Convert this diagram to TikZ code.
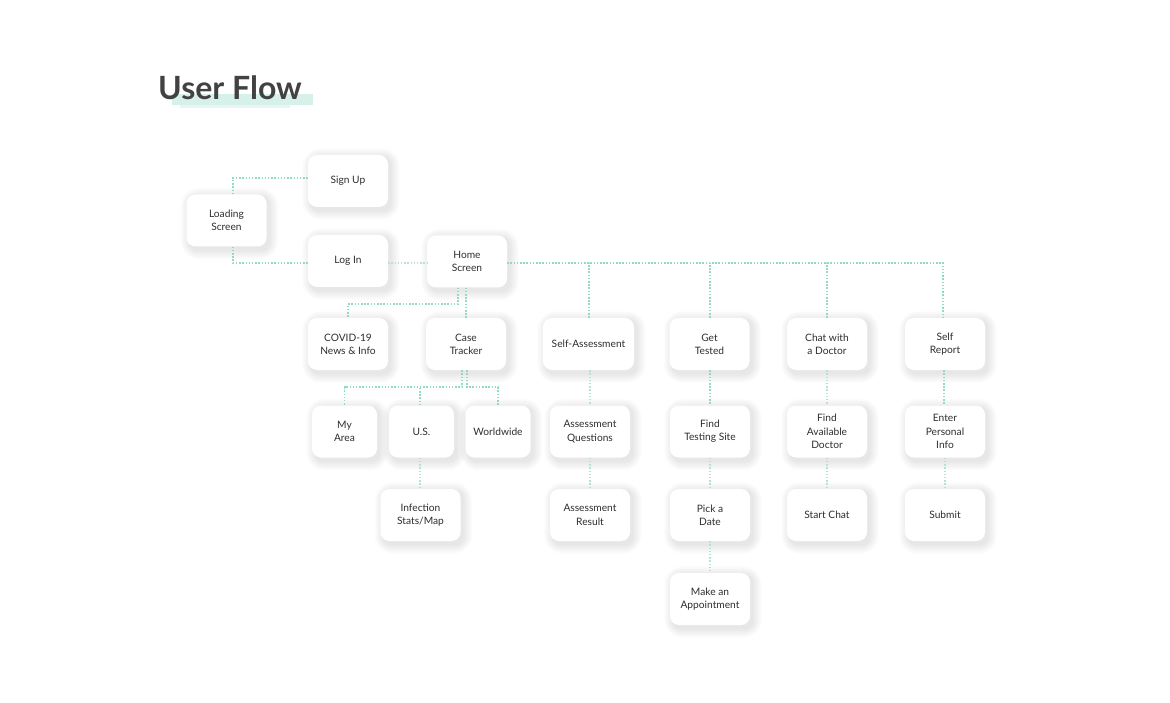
\documentclass[tikz,border=0pt]{standalone}
\usepackage{fontspec}
\setmainfont{Lato}
\usetikzlibrary{calc}
\pgfdeclarelayer{bg}
\pgfsetlayers{bg,main}
\definecolor{linecol}{HTML}{93D9C8}
\definecolor{linelight}{HTML}{B0E4D7}
\definecolor{txtcol}{HTML}{2E2E2E}
\definecolor{titlecol}{HTML}{424242}
\definecolor{hilite}{HTML}{D6F0EA}
\begin{document}
\begin{tikzpicture}[x=1pt,y=-1pt,
  box/.style={rectangle, rounded corners=9pt, fill=white, minimum width=80pt, minimum height=52pt,
    inner sep=2pt, align=center, text=txtcol, font=\fontsize{10.2}{13.3}\selectfont},
  narrow/.style={box, minimum width=65pt},
  wide/.style={box, minimum width=91pt},
  conn/.style={draw=linecol, line width=1.5pt, dash pattern=on 1.5pt off 1.7pt},
  connlight/.style={draw=linelight, line width=1.2pt, dash pattern=on 1.4pt off 1.8pt}]
\useasboundingbox (0,0) rectangle (1170,703);
\begin{pgfonlayer}{bg}
\fill[white] (0,0) rectangle (1170,703);
\end{pgfonlayer}
% title
\fill[hilite] (172,94) rectangle (313,105);
\fill[hilite!60] (180,105) rectangle (290,108);
\node[anchor=base west, inner sep=0pt, text=titlecol, font=\fontsize{32}{36}\selectfont\bfseries] (title) at (158,99.5) {User Flow};
% nodes
\node[box] (signup) at (348,181) {Sign Up};
\node[box] (load) at (226.5,220.5) {Loading\\Screen};
\node[box] (login) at (348,261) {Log In};
\node[box] (home) at (467,261.5) {Home\\Screen};
\node[box] (covid) at (348,344) {COVID-19\\News \& Info};
\node[box] (ct) at (466,344) {Case\\Tracker};
\node[wide] (sa) at (588.5,344) {Self-Assessment};
\node[box] (gt) at (709.5,344) {Get\\Tested};
\node[box] (chat) at (827,344) {Chat with\\a Doctor};
\node[box] (sr) at (945,344) {Self\\Report};
\node[narrow] (myarea) at (344.5,431.5) {My\\Area};
\node[narrow] (us) at (421.5,431.5) {U.S.};
\node[narrow] (ww) at (498,431.5) {Worldwide};
\node[box] (inf) at (420.5,515) {Infection\\Stats/Map};
\node[box] (aq) at (590,431.5) {Assessment\\Questions};
\node[box] (ar) at (590,515) {Assessment\\Result};
\node[box] (fts) at (710,431.5) {Find\\Testing Site};
\node[box] (pd) at (710,515) {Pick a\\Date};
\node[box] (ma) at (710,599) {Make an\\Appointment};
\node[box] (fad) at (827,431.5) {Find\\Available\\Doctor};
\node[box] (sc) at (827,515) {Start Chat};
\node[box] (epi) at (945,431.5) {Enter\\Personal\\Info};
\node[box] (sub) at (945,515) {Submit};
% soft shadows
\begin{pgfonlayer}{bg}
\foreach \n in {signup,load,login,home,covid,ct,sa,gt,chat,sr,myarea,us,ww,inf,aq,ar,fts,pd,ma,fad,sc,epi,sub}{
  \foreach \i in {0,...,11}{
    \fill[black, opacity=0.009, rounded corners=8pt+\i pt]
      ($(\n.south west)+(3-\i*0.8,4+\i*0.8)$) rectangle ($(\n.north east)+(3+\i*0.8,2-\i*0.8)$);
  }
}
\end{pgfonlayer}
% connectors
\draw[conn] ([xshift=6.5pt]load.north) |- ([yshift=3pt]signup.west);
\draw[conn] ([xshift=6.5pt]load.south) |- ([yshift=-2pt]login.west);
\draw[connlight] ([yshift=-2pt]login.east) -- ([yshift=-1.5pt]home.west);
\coordinate (hy) at ([yshift=-1.5pt]home.east);
\draw[conn] (hy) -| ([xshift=-2pt]sr.north);
\draw[conn] ([xshift=0.5pt]sa.north) -- ([xshift=0.5pt]sa.north |- hy);
\draw[conn] ([xshift=0.5pt]gt.north) -- ([xshift=0.5pt]gt.north |- hy);
\draw[conn] (chat.north) -- (chat.north |- hy);
\draw[conn] ([xshift=-9pt]home.south) -- ++(0,16.5) -| (covid.north);
\draw[conn] (ct.north |- home.south) -- (ct.north);
\coordinate (cy) at ([yshift=-17pt]ct.south);
\draw[conn] ([xshift=-4pt]ct.south) -- ([xshift=-4pt]cy) -| (myarea.north);
\draw[conn] (us.north -| 420,0) -- (420,0 |- cy);
\draw[conn] ([xshift=1pt]ct.south) -- ([xshift=1pt]cy) -| (ww.north);
\draw[connlight] (us.south -| 420,0) -- (inf.north -| 420,0);
\draw[connlight] (sa.south -| aq.north) -- (aq.north);
\draw[connlight] (aq.south) -- (ar.north);
\draw[conn] (gt.south -| fts.north) -- (fts.north);
\draw[connlight] (fts.south) -- (pd.north);
\draw[connlight] (pd.south) -- (ma.north);
\draw[connlight] (chat.south) -- (fad.north);
\draw[connlight] (fad.south) -- (sc.north);
\draw[conn] ([xshift=-1pt]sr.south) -- ([xshift=-1pt]epi.north);
\draw[connlight] (epi.south) -- (sub.north);
\end{tikzpicture}
\end{document}
